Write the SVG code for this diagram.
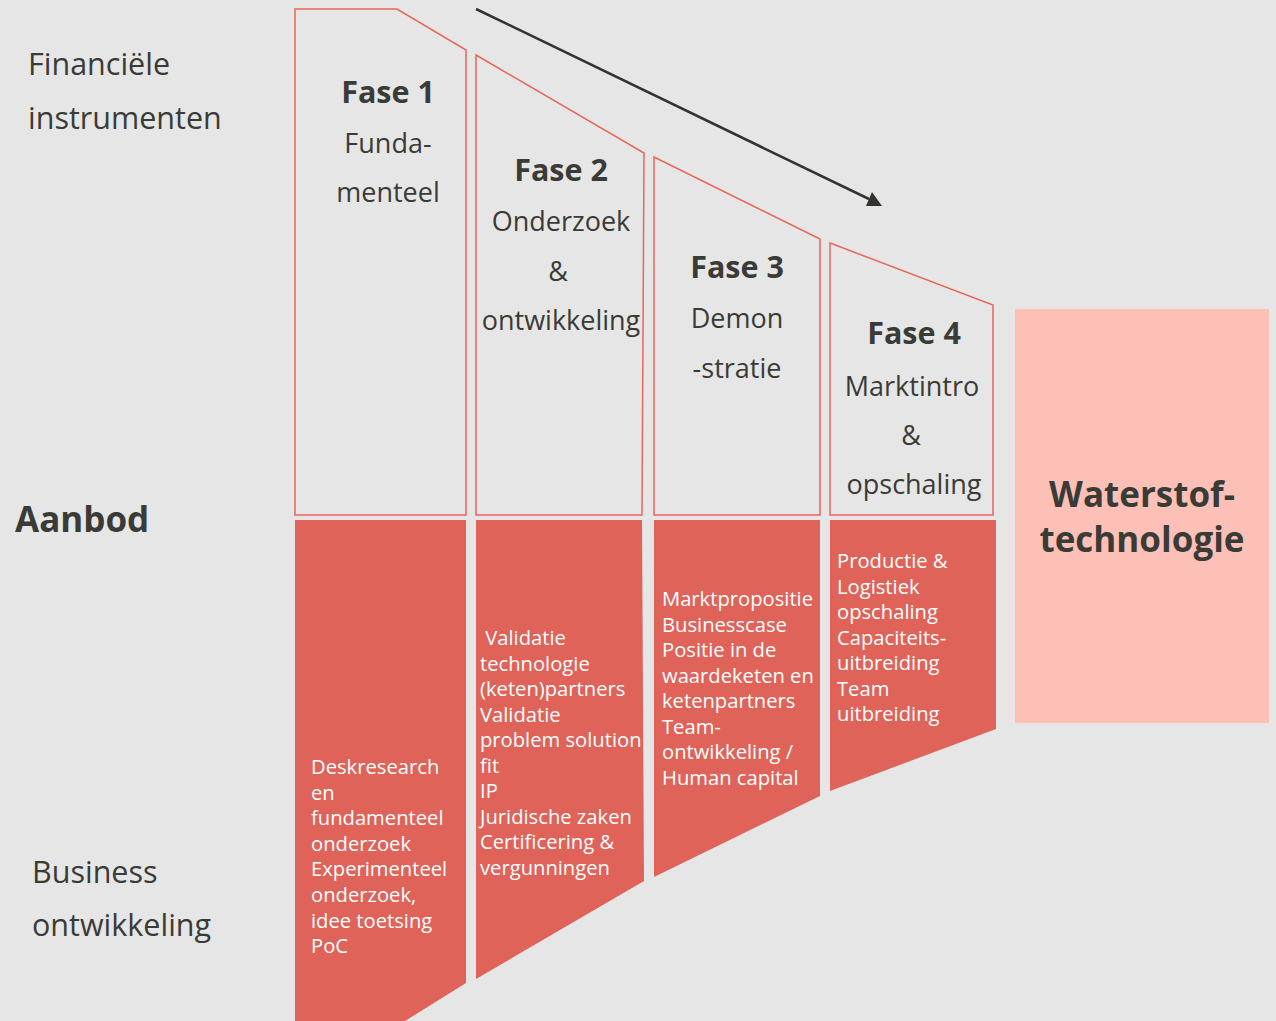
<svg xmlns="http://www.w3.org/2000/svg" width="1276" height="1021" viewBox="0 0 1276 1021">
<defs>
<style>
.bg{fill:#e6e6e6}
.outline{fill:none;stroke:#e8665a;stroke-width:1.5}
.block{fill:#e0635a}
.target{fill:#fdc0b6}
.lbl{font-family:"Open Sans","Liberation Sans",sans-serif;fill:#3a3b36}
.side{font-size:30.5px}
.head{font-size:30.5px;font-weight:bold;text-anchor:middle}
.sub{font-size:27px;text-anchor:middle}
.big{font-size:35px;font-weight:bold}
.item{font-family:"Open Sans","Liberation Sans",sans-serif;font-size:20.2px;fill:#ffffff}
.arrow{stroke:#333430;stroke-width:2.5;fill:none}
</style>
</defs>
<rect class="bg" x="0" y="0" width="1276" height="1021"/>

<g id="labels">
<text class="lbl side" x="28" y="75">Financiële</text>
<text class="lbl side" x="28" y="129">instrumenten</text>
<text class="lbl big" x="15" y="532">Aanbod</text>
<text class="lbl side" x="32" y="883">Business</text>
<text class="lbl side" x="32" y="936">ontwikkeling</text>
</g>

<g id="fase1">
<polygon class="outline" points="295,9 397,9 466,50 466,515 295,515"/>
<text class="lbl head" x="388" y="103">Fase 1</text>
<text class="lbl sub" x="388" y="153">Funda-</text>
<text class="lbl sub" x="388" y="202">menteel</text>
</g>
<g id="fase1-aanbod">
<polygon class="block" points="295,520 466,520 466,983 405,1021 295,1021"/>
<text class="item" x="311" y="774">Deskresearch</text>
<text class="item" x="311" y="799.6">en</text>
<text class="item" x="311" y="825.2">fundamenteel</text>
<text class="item" x="311" y="850.8">onderzoek</text>
<text class="item" x="311" y="876.4">Experimenteel</text>
<text class="item" x="311" y="902">onderzoek,</text>
<text class="item" x="311" y="927.6">idee toetsing</text>
<text class="item" x="311" y="953.2">PoC</text>
</g>

<g id="fase2">
<polygon class="outline" points="476,55 644,153 642,515 476,515"/>
<text class="lbl head" x="561" y="181">Fase 2</text>
<text class="lbl sub" x="561" y="231">Onderzoek</text>
<text class="lbl sub" x="558" y="281">&amp;</text>
<text class="lbl sub" x="561" y="330">ontwikkeling</text>
</g>
<g id="fase2-aanbod">
<polygon class="block" points="476,520 642,520 644,881 476,979"/>
<text class="item" x="480" y="645" xml:space="preserve"> Validatie</text>
<text class="item" x="480" y="670.6">technologie</text>
<text class="item" x="480" y="696.1">(keten)partners</text>
<text class="item" x="480" y="721.7">Validatie</text>
<text class="item" x="480" y="747.2">problem solution</text>
<text class="item" x="480" y="772.8">fit</text>
<text class="item" x="480" y="798.3">IP</text>
<text class="item" x="480" y="823.9">Juridische zaken</text>
<text class="item" x="480" y="849.4">Certificering &amp;</text>
<text class="item" x="480" y="875">vergunningen</text>
</g>

<g id="fase3">
<polygon class="outline" points="654,157 820,239 820,515 654,515"/>
<text class="lbl head" x="737" y="278">Fase 3</text>
<text class="lbl sub" x="737" y="328">Demon</text>
<text class="lbl sub" x="737" y="378">-stratie</text>
</g>
<g id="fase3-aanbod">
<polygon class="block" points="654,520 820,520 820,796 654,877"/>
<text class="item" x="662" y="606">Marktpropositie</text>
<text class="item" x="662" y="631.6">Businesscase</text>
<text class="item" x="662" y="657.1">Positie in de</text>
<text class="item" x="662" y="682.7">waardeketen en</text>
<text class="item" x="662" y="708.3">ketenpartners</text>
<text class="item" x="662" y="733.9">Team-</text>
<text class="item" x="662" y="759.4">ontwikkeling /</text>
<text class="item" x="662" y="785">Human capital</text>
</g>

<g id="fase4">
<polygon class="outline" points="830,243 993,305 993,515 830,515"/>
<text class="lbl head" x="914" y="344">Fase 4</text>
<text class="lbl sub" x="912" y="396">Marktintro</text>
<text class="lbl sub" x="911" y="445">&amp;</text>
<text class="lbl sub" x="914" y="494">opschaling</text>
</g>
<g id="fase4-aanbod">
<polygon class="block" points="830,520 996,520 996,729 830,791"/>
<text class="item" x="837" y="568">Productie &amp;</text>
<text class="item" x="837" y="593.6">Logistiek</text>
<text class="item" x="837" y="619.1">opschaling</text>
<text class="item" x="837" y="644.7">Capaciteits-</text>
<text class="item" x="837" y="670.3">uitbreiding</text>
<text class="item" x="837" y="695.8">Team</text>
<text class="item" x="837" y="721.4">uitbreiding</text>
</g>

<g id="waterstof">
<rect class="target" x="1015" y="309" width="254" height="414"/>
<text class="lbl big" x="1142" y="507" text-anchor="middle">Waterstof-</text>
<text class="lbl big" x="1142" y="552" text-anchor="middle">technologie</text>
</g>

<g id="connectors">
<line class="arrow" x1="476" y1="9" x2="869" y2="199"/>
<polygon points="866,206 882,206 872,192" fill="#333430"/>
</g>
</svg>
